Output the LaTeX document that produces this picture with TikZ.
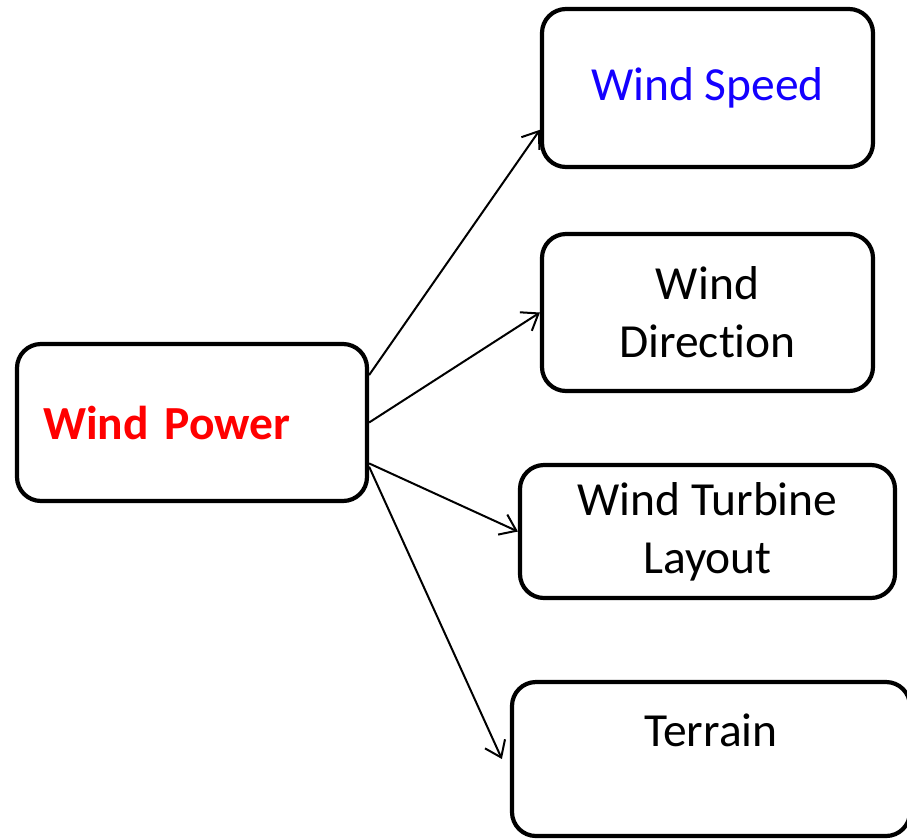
\documentclass[tikz,border=0pt]{standalone}
\usepackage{fontspec}
\setmainfont{Carlito}[Ligatures=CommonOff]
\usetikzlibrary{arrows.meta,positioning}
\definecolor{Ink}{HTML}{000000}
\definecolor{PowerRed}{HTML}{FF0000}
\definecolor{SpeedBlue}{HTML}{1400FF}
\tikzset{
  card/.style={draw=Ink,line width=4.2pt,rounded corners=24pt,align=center,fill=white,text=Ink,inner sep=4pt,font=\fontsize{47.5pt}{58pt}\selectfont},
  cardpower/.style={card,text width=298pt,align=left,text=PowerRed,font=\fontsize{47.5pt}{58pt}\selectfont\bfseries},
  cardspeed/.style={card,text=SpeedBlue},
  arrow/.style={-{Straight Barb[length=15pt,width=22pt]},line width=2pt,draw=Ink}
}

\begin{document}
\begin{tikzpicture}[x=1pt,y=-1pt]
\useasboundingbox (0,0) rectangle (907,839);
\clip (0,0) rectangle (907,839);
\node[cardpower,minimum width=350pt,minimum height=157pt] (power) at (192,422.5) {Wind Power};
\node[cardspeed,minimum width=331pt,minimum height=158pt] (speed) at (707.5,88) {Wind Speed};
\node[card,minimum width=331pt,minimum height=157pt] (dir) at (707.5,312.5) {Wind\\Direction};
\node[card,minimum width=375pt,minimum height=133pt] (layout) at (707.5,531.5) {Wind Turbine\\Layout};
\node[card,minimum width=398pt,minimum height=154pt] (terrain) at (711,759) {Terrain\\~};
\draw[arrow] (power.15)--(speed.194);\draw[arrow] (power.east)--(dir.west);
\draw[arrow] (power.-13)--(layout.west);\draw[arrow] (power.-14)--([xshift=-8pt]terrain.west);
\end{tikzpicture}
\end{document}
